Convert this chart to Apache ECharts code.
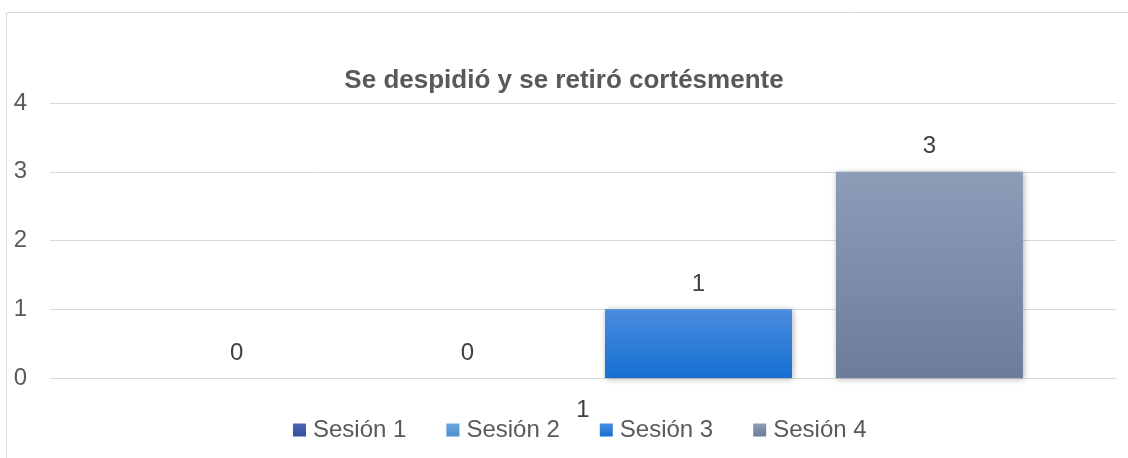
<!DOCTYPE html>
<html>
<head>
<meta charset="utf-8">
<script src="https://cdn.jsdelivr.net/npm/echarts@6/dist/echarts.min.js"></script>
<style>
  html, body { margin: 0; padding: 0; background: #fff; }
  #chart { width: 1128px; height: 458px; }
</style>
</head>
<body>
<div id="chart"></div>
<script>
// datos
const categories = ["1"];
const seriesNames = ["Sesión 1", "Sesión 2", "Sesión 3", "Sesión 4"];
const sesion1 = [0];
const sesion2 = [0];
const sesion3 = [1];
const sesion4 = [3];
const yTicks = [0, 1, 2, 3, 4];

const font = "Liberation Sans, Arial, sans-serif";

function grad(top, bottom) {
  return new echarts.graphic.LinearGradient(0, 0, 0, 1, [
    { offset: 0, color: top },
    { offset: 1, color: bottom },
  ]);
}

const colors = [
  grad("#4a66b8", "#34519c"),
  grad("#6aa6de", "#4f8fcb"),
  grad("#4a8cdf", "#1570d0"),
  grad("#8d9db8", "#6b7d9b"),
];
const legendColors = ["#3d58a6", "#5a9ad6", "#1a73d6", "#7d8caa"];

function bar(name, data, i) {
  return {
    name: name,
    type: "bar",
    data: data,
    barWidth: 187,
    barGap: "23.5%",
    itemStyle: {
      color: colors[i],
      shadowColor: "rgba(0,0,0,0.3)",
      shadowBlur: 6,
      shadowOffsetX: 1,
      shadowOffsetY: 1,
    },
    label: {
      show: true,
      position: "top",
      distance: 13,
      color: "#404040",
      fontSize: 24,
      fontFamily: font,
    },
  };
}

let myChart = echarts.init(document.getElementById("chart"));
myChart.setOption({
  animation: false,
  color: legendColors,
  graphic: [
    {
      type: "rect",
      shape: { x: 6.5, y: 12.5, width: 1130, height: 460 },
      style: { fill: "none", stroke: "#d9d9d9", lineWidth: 1 },
      z: -1,
    },
  ],
  title: {
    text: "Se despidió y se retiró cortésmente",
    left: "center",
    top: 63,
    textStyle: {
      color: "#595959",
      fontSize: 26,
      fontWeight: "bold",
      fontFamily: font,
    },
  },
  grid: {
    left: 50,
    right: 12,
    top: 103,
    bottom: 80,
  },
  xAxis: {
    type: "category",
    data: categories,
    axisLine: { lineStyle: { color: "#d9d9d9", width: 1 } },
    axisTick: { show: false },
    axisLabel: {
      color: "#404040",
      fontSize: 24,
      fontFamily: font,
      margin: 20,
    },
  },
  yAxis: {
    type: "value",
    min: yTicks[0],
    max: yTicks[yTicks.length - 1],
    interval: 1,
    axisLine: { show: false },
    axisTick: { show: false },
    splitLine: { lineStyle: { color: "#d9d9d9", width: 1 } },
    axisLabel: {
      color: "#595959",
      fontSize: 24,
      fontFamily: font,
      margin: 23,
    },
  },
  legend: {
    top: 413,
    left: 288,
    itemWidth: 13,
    itemHeight: 13,
    itemGap: 40,
    icon: "rect",
    textStyle: {
      color: "#595959",
      fontSize: 24,
      fontFamily: font,
      padding: [0, 0, 0, 2],
    },
    data: seriesNames,
  },
  series: [
    bar(seriesNames[0], sesion1, 0),
    bar(seriesNames[1], sesion2, 1),
    bar(seriesNames[2], sesion3, 2),
    bar(seriesNames[3], sesion4, 3),
  ],
});
</script>
</body>
</html>
